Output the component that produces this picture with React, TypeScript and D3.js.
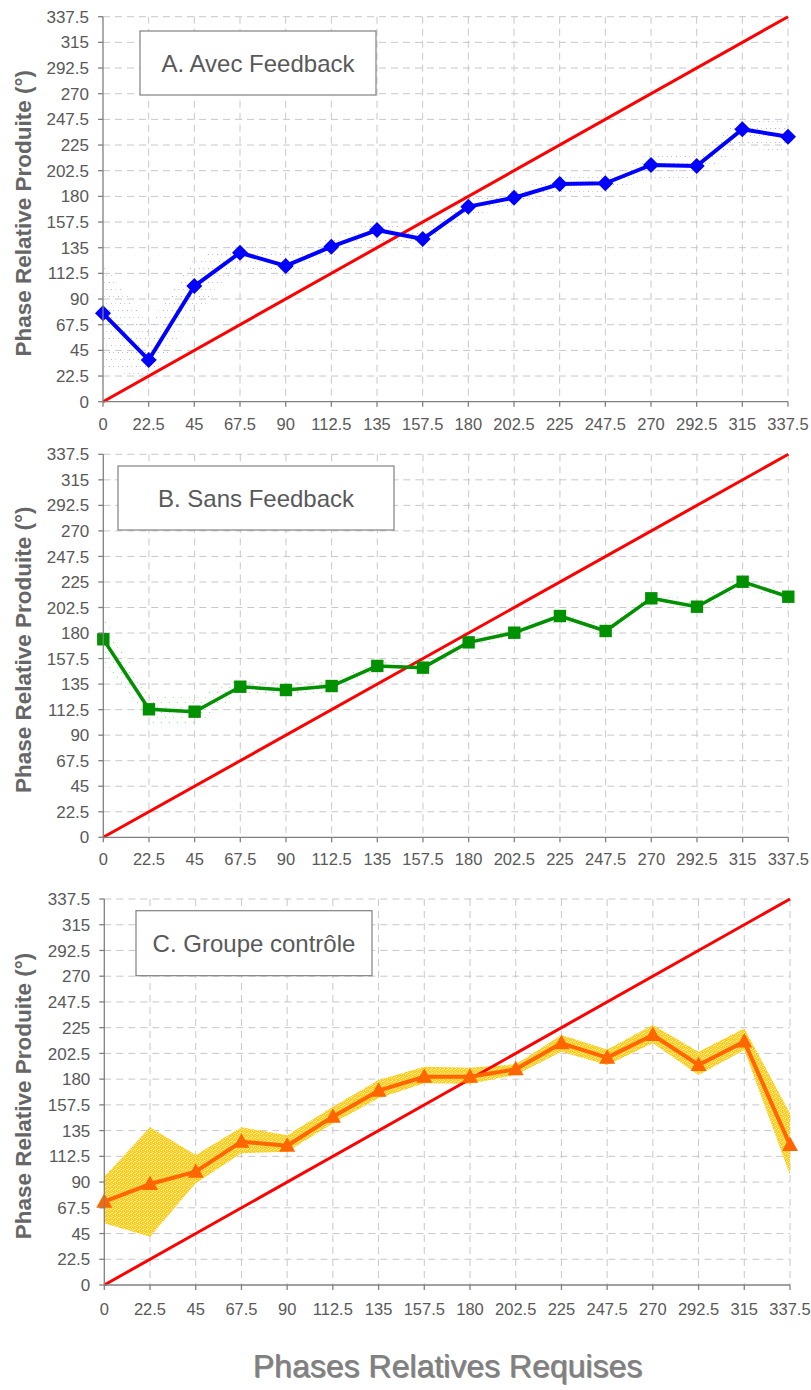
import React from "react";
import * as d3 from "d3";

const phases = [0, 22.5, 45, 67.5, 90, 112.5, 135, 157.5, 180, 202.5, 225, 247.5, 270, 292.5, 315, 337.5];
const yTicks = [0, 22.5, 45, 67.5, 90, 112.5, 135, 157.5, 180, 202.5, 225, 247.5, 270, 292.5, 315, 337.5];

const avecFeedback = [77.5, 36.6, 101.4, 130.6, 119, 135.9, 150.5, 142.6, 171, 178.8, 190.8, 191.5, 207.5, 206.6, 238.8, 232.3];
const avecLow = [30, 18, 75, 118, 108, 128, 140, 135, 162, 172, 183, 183, 196, 196, 223, 218];
const avecHigh = [121, 68, 125, 142, 130, 145, 158, 150, 180, 186, 197, 199, 218, 217, 250, 248];

const sansFeedback = [174.5, 112.8, 110.7, 132.7, 129.8, 133.3, 151, 149.5, 171.8, 180.3, 195, 181.8, 210.6, 203.2, 225.2, 212];
const sansLow = [150, 100, 98, 126, 124, 128, 146, 145, 167, 176, 189, 177, 205, 198, 219, 206];
const sansHigh = [195, 125, 123, 140, 136, 139, 156, 154, 177, 185, 200, 187, 216, 209, 231, 218];

const controle = [72.8, 88.3, 99.1, 125.3, 121.8, 147.2, 169.9, 182.1, 182.1, 188.6, 211.3, 198.8, 218.6, 192.4, 212.8, 122.4];
const controleLow = [54, 42.2, 89, 115.2, 116.6, 141.4, 163.2, 176.4, 176, 183.6, 204, 192.4, 211.3, 183.6, 205.5, 96.2];
const controleHigh = [94.7, 137.9, 113.7, 137.9, 131, 155.9, 179.2, 190.9, 190, 193, 218.6, 206, 227.3, 204, 224.4, 150.1];

const panelTitles = ["A. Avec Feedback", "B. Sans Feedback", "C. Groupe contrôle"];
const yAxisTitle = "Phase Relative Produite (°)";
const xAxisTitle = "Phases Relatives Requises";

type Panel = {
  left: number; right: number; top: number; bottom: number;
  values: number[]; low: number[]; high: number[];
  color: string; marker: "diamond" | "square" | "triangle"; lineWidth: number;
  bandFill: string;
  title: string; box: [number, number, number, number];
  xLabelOffset: number;
};

const panels: Panel[] = [
  { left: 103, right: 788, top: 16.7, bottom: 401.7, values: avecFeedback, low: avecLow, high: avecHigh,
    color: "#0000ff", marker: "diamond", lineWidth: 4, bandFill: "url(#dotsBlue)",
    title: panelTitles[0], box: [140, 31, 236, 64], xLabelOffset: 22 },
  { left: 103.3, right: 788.3, top: 454.3, bottom: 837.3, values: sansFeedback, low: sansLow, high: sansHigh,
    color: "#009000", marker: "square", lineWidth: 3.5, bandFill: "url(#dotsGreen)",
    title: panelTitles[1], box: [118, 466, 276, 64], xLabelOffset: 22 },
  { left: 104.3, right: 790, top: 899, bottom: 1285, values: controle, low: controleLow, high: controleHigh,
    color: "#ff6600", marker: "triangle", lineWidth: 4, bandFill: "url(#dotsYellow)",
    title: panelTitles[2], box: [136, 910.7, 236, 65], xLabelOffset: 24 },
];

const FONT = "'Liberation Sans', Arial, Helvetica, sans-serif";

function markerPath(kind: string, x: number, y: number): string {
  if (kind === "diamond") {
    const r = 8;
    return `M${x},${y - r}L${x + r},${y}L${x},${y + r}L${x - r},${y}Z`;
  }
  if (kind === "square") {
    const r = 6.2;
    return `M${x - r},${y - r}H${x + r}V${y + r}H${x - r}Z`;
  }
  const w = 8;
  return `M${x},${y - 8.5}L${x + w},${y + 6}L${x - w},${y + 6}Z`;
}

function ChartPanel({ p }: { p: Panel }) {
  const x = d3.scaleLinear().domain([0, 337.5]).range([p.left, p.right]);
  const y = d3.scaleLinear().domain([0, 337.5]).range([p.bottom, p.top]);
  const pts = phases.map((ph, i) => ({ ph, v: p.values[i], lo: p.low[i], hi: p.high[i] }));
  const area = d3.area<any>().x((d) => x(d.ph)).y0((d) => y(d.lo)).y1((d) => y(d.hi));
  const line = d3.line<any>().x((d) => x(d.ph)).y((d) => y(d.v));
  const ident = d3.line<number>().x((d) => x(d)).y((d) => y(d));
  const yCenter = (p.top + p.bottom) / 2 + 4;
  return (
    <g>
      {yTicks.slice(1).map((t) => (
        <line key={"h" + t} x1={p.left} x2={p.right} y1={y(t)} y2={y(t)} stroke="#c8c8c8" strokeWidth={1} strokeDasharray="7,5" />
      ))}
      {phases.slice(1).map((t) => (
        <line key={"v" + t} x1={x(t)} x2={x(t)} y1={p.top} y2={p.bottom} stroke="#c8c8c8" strokeWidth={1} strokeDasharray="7,5" />
      ))}
      <path d={area(pts) || ""} fill={p.bandFill} stroke="none" />
      <path d={ident([0, 337.5]) || ""} stroke="#ff0000" strokeWidth={3} fill="none" />
      <path d={line(pts) || ""} stroke={p.color} strokeWidth={p.lineWidth} fill="none" strokeLinejoin="round" />
      {pts.map((d, i) => (
        <path key={"m" + i} d={markerPath(p.marker, x(d.ph), y(d.v))} fill={p.color} />
      ))}
      <line x1={p.left} x2={p.left} y1={p.top} y2={p.bottom} stroke="#808080" strokeWidth={1.3} />
      <line x1={p.left} x2={p.right} y1={p.bottom} y2={p.bottom} stroke="#808080" strokeWidth={1.3} />
      {yTicks.map((t) => (
        <g key={"yt" + t}>
          <line x1={p.left - 5} x2={p.left} y1={y(t)} y2={y(t)} stroke="#808080" strokeWidth={1.3} />
          <text x={p.left - 14} y={y(t)} dy="0.36em" textAnchor="end" fontSize={17} fill="#595959" fontFamily={FONT}>{t}</text>
        </g>
      ))}
      {phases.map((t) => (
        <g key={"xt" + t}>
          <line x1={x(t)} x2={x(t)} y1={p.bottom} y2={p.bottom + 5} stroke="#808080" strokeWidth={1.3} />
          <text x={x(t)} y={p.bottom + p.xLabelOffset} dy="0.36em" textAnchor="middle" fontSize={16.5} fill="#595959" fontFamily={FONT}>{t}</text>
        </g>
      ))}
      <text transform={`translate(31,${yCenter}) rotate(-90)`} textAnchor="middle" fontSize={22.5} fontWeight="bold" fill="#666666" fontFamily={FONT}>{yAxisTitle}</text>
      <rect x={p.box[0]} y={p.box[1]} width={p.box[2]} height={p.box[3]} fill="#ffffff" stroke="#808080" strokeWidth={1.2} />
      <text x={p.box[0] + p.box[2] / 2} y={p.box[1] + p.box[3] / 2} dy="0.36em" textAnchor="middle" fontSize={24} fill="#595959" fontFamily={FONT}>{p.title}</text>
    </g>
  );
}

export default function App() {
  return (
    <svg width={811} height={1390} style={{ position: "absolute", left: 0, top: 0, background: "#ffffff" }}>
      <defs>
        <pattern id="dotsBlue" width="9" height="14" patternUnits="userSpaceOnUse">
          <rect x="1" y="2" width="1" height="1" fill="#a4b0ff" />
          <rect x="5" y="2" width="1" height="1" fill="#c0c8ff" />
          <rect x="3" y="9" width="1" height="1" fill="#b0baff" />
          <rect x="7" y="9" width="1" height="1" fill="#ccd2ff" />
        </pattern>
        <pattern id="dotsGreen" width="8" height="10" patternUnits="userSpaceOnUse">
          <rect x="1" y="2" width="1" height="1" fill="#7cf07c" />
          <rect x="5" y="7" width="1" height="1" fill="#a0f5a0" />
        </pattern>
        <pattern id="dotsYellow" width="4" height="4" patternUnits="userSpaceOnUse">
          <rect width="4" height="4" fill="#ffcc1a" />
          <rect x="0" y="0" width="1" height="1" fill="#fff2b0" />
          <rect x="2" y="1" width="1" height="1" fill="#ffe680" />
          <rect x="1" y="2" width="1" height="1" fill="#fff6cc" />
          <rect x="3" y="3" width="1" height="1" fill="#ffe070" />
          <rect x="3" y="1" width="1" height="1" fill="#ffeaa0" />
        </pattern>
      </defs>
      {panels.map((p, i) => (
        <ChartPanel key={i} p={p} />
      ))}
      <text x={448.5} y={1377.5} textAnchor="middle" fontSize={32} fill="#444444" fontFamily={FONT} opacity={0.6}>{xAxisTitle}</text>
      <text x={447.5} y={1376.5} textAnchor="middle" fontSize={32} fill="#808080" fontFamily={FONT}>{xAxisTitle}</text>
    </svg>
  );
}
